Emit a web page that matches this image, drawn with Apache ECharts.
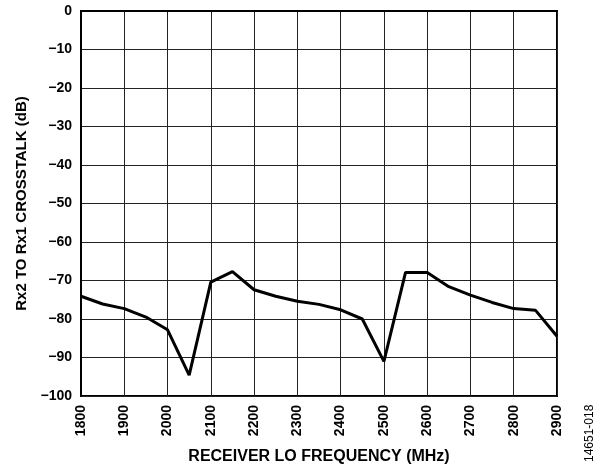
<!DOCTYPE html>
<html><head><meta charset="utf-8">
<script src="https://cdn.jsdelivr.net/npm/echarts@6/dist/echarts.min.js"></script>
<style>html,body{margin:0;padding:0;background:#fff}#c{width:600px;height:470px}</style>
</head><body><div id="c"></div>
<script>
const freqs = [1800,1850,1900,1950,2000,2050,2100,2150,2200,2250,2300,2350,2400,2450,2500,2550,2600,2650,2700,2750,2800,2850,2900];
const crosstalk = [-74.1,-76.1,-77.3,-79.5,-82.8,-94.6,-70.4,-67.7,-72.4,-74.1,-75.4,-76.2,-77.6,-80.0,-91.0,-67.9,-67.9,-71.6,-73.8,-75.7,-77.3,-77.7,-84.5];
const xTitle = 'RECEIVER LO FREQUENCY (MHz)';
const yTitle = 'Rx2 TO Rx1 CROSSTALK (dB)';
const figId = '14651-018';

const font = 'Arial, "Liberation Sans", sans-serif';
const chart = echarts.init(document.getElementById('c'), null, {renderer:'canvas'});
chart.setOption({
  animation:false,
  grid:{left:81, top:11, right:43, bottom:72, show:true, borderColor:'#000', borderWidth:2},
  xAxis:{type:'value', min:1800, max:2900, interval:100,
    name:xTitle, nameLocation:'middle', nameGap:53,
    nameTextStyle:{fontFamily:font, fontWeight:'bold', fontSize:16, color:'#000'},
    axisLine:{show:true, lineStyle:{color:'#000', width:2}},
    axisTick:{show:false},
    axisLabel:{rotate:90, margin:9, fontFamily:font, fontWeight:'bold', fontSize:14, color:'#000',
      formatter:v=>String(v)},
    splitLine:{show:true, lineStyle:{color:'#222', width:1}}},
  yAxis:{type:'value', min:-100, max:0, interval:10,
    name:yTitle, nameLocation:'middle', nameGap:47, nameRotate:90,
    nameTextStyle:{fontFamily:font, fontWeight:'bold', fontSize:15, color:'#000'},
    axisLine:{show:true, lineStyle:{color:'#000', width:2}},
    axisTick:{show:false},
    axisLabel:{margin:9, fontFamily:font, fontWeight:'bold', fontSize:14, color:'#000',
      formatter:v=>String(v).replace('-','\u2212')},
    splitLine:{show:true, lineStyle:{color:'#222', width:1}}},
  graphic:[{type:'text', x:590, y:462, rotation:Math.PI/2,
    style:{text:figId, fontFamily:font, fontSize:12, fill:'#000', align:'left', verticalAlign:'middle'}}],
  series:[{type:'line', data:freqs.map((f,i)=>[f,crosstalk[i]]), symbol:'none',
    lineStyle:{color:'#000', width:3}, z:5}]
});
</script></body></html>
